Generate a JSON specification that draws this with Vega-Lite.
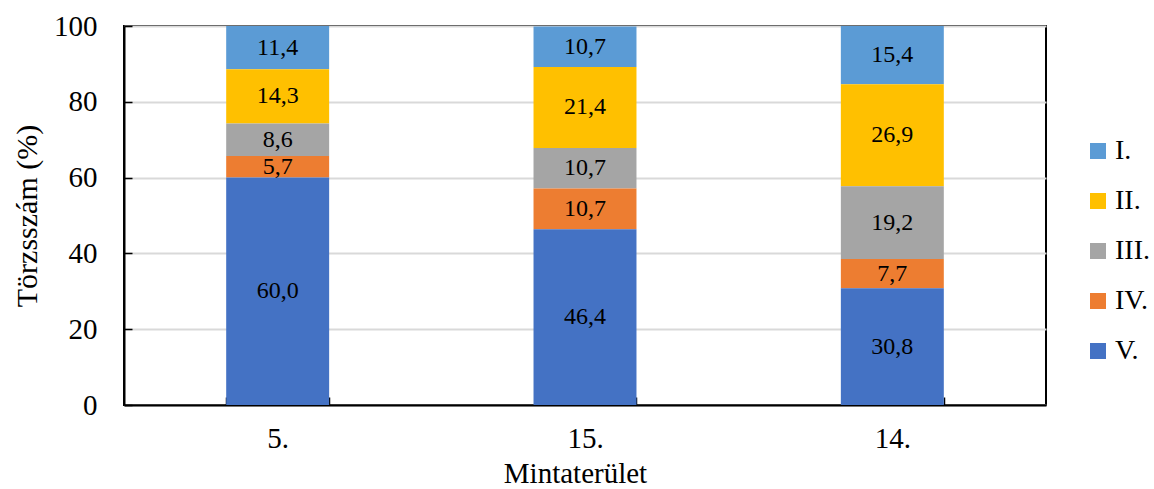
{
  "$schema": "https://vega.github.io/schema/vega-lite/v6.json",
  "width": 922,
  "height": 379,
  "autosize": {"type": "none"},
  "padding": {"left": 124, "top": 26, "right": 108, "bottom": 84},
  "background": "white",
  "config": {
    "font": "Liberation Serif",
    "locale": {"number": {"decimal": ",", "thousands": " ", "grouping": [3], "currency": ["", " Ft"]}},
    "view": {"stroke": "black", "strokeWidth": 2}
  },
  "data": {
    "values": [
      {"site": "5.", "class": "I.", "value": 11.4},
      {"site": "5.", "class": "II.", "value": 14.3},
      {"site": "5.", "class": "III.", "value": 8.6},
      {"site": "5.", "class": "IV.", "value": 5.7},
      {"site": "5.", "class": "V.", "value": 60.0},
      {"site": "15.", "class": "I.", "value": 10.7},
      {"site": "15.", "class": "II.", "value": 21.4},
      {"site": "15.", "class": "III.", "value": 10.7},
      {"site": "15.", "class": "IV.", "value": 10.7},
      {"site": "15.", "class": "V.", "value": 46.4},
      {"site": "14.", "class": "I.", "value": 15.4},
      {"site": "14.", "class": "II.", "value": 26.9},
      {"site": "14.", "class": "III.", "value": 19.2},
      {"site": "14.", "class": "IV.", "value": 7.7},
      {"site": "14.", "class": "V.", "value": 30.8}
    ]
  },
  "encoding": {
    "x": {
      "field": "site", "type": "nominal", "sort": ["5.", "15.", "14."],
      "scale": {"paddingInner": 0.665, "paddingOuter": 0.3325},
      "axis": {
        "title": "Mintaterület", "labelAngle": 0, "tickBand": "extent",
        "domainColor": "black", "domainWidth": 2, "tickColor": "black", "tickWidth": 1.5, "tickSize": -8,
        "labelFontSize": 29, "labelColor": "black", "labelPadding": 27,
        "titleFontSize": 29, "titleFontWeight": "normal", "titleColor": "black",
        "titleX": 451, "titleY": 77, "titleBaseline": "alphabetic"
      }
    },
    "y": {
      "field": "value", "type": "quantitative", "stack": "zero",
      "scale": {"domain": [0, 100], "nice": false},
      "axis": {
        "title": "Törzsszám (%)", "values": [0, 20, 40, 60, 80, 100], "format": "d",
        "domainColor": "black", "domainWidth": 2, "tickColor": "black", "tickWidth": 1.5, "tickSize": -8,
        "gridColor": "#d9d9d9", "gridWidth": 2,
        "labelFontSize": 29, "labelColor": "black", "labelPadding": 35,
        "titleFontSize": 30, "titleFontWeight": "normal", "titleColor": "black",
        "titleX": -88, "titleY": 189.5, "titleBaseline": "alphabetic"
      }
    },
    "order": {"field": "class", "sort": "descending"}
  },
  "layer": [
    {
      "mark": {"type": "bar"},
      "encoding": {
        "color": {
          "field": "class", "type": "nominal",
          "scale": {"domain": ["I.", "II.", "III.", "IV.", "V."], "range": ["#5B9BD5", "#FFC000", "#A5A5A5", "#ED7D31", "#4472C4"]},
          "legend": {
            "title": null, "orient": "none", "legendX": 960, "legendY": 111,
            "symbolType": "square", "symbolSize": 256, "symbolStrokeWidth": 0, "symbolOpacity": 1,
            "labelFontSize": 28, "labelColor": "black", "labelOffset": 3, "rowPadding": 22, "padding": 0
          }
        }
      }
    },
    {
      "mark": {"type": "text", "fontSize": 24, "color": "black", "baseline": "middle"},
      "encoding": {
        "y": {"field": "value", "type": "quantitative", "stack": "zero", "bandPosition": 0.5},
        "text": {"field": "value", "type": "quantitative", "format": ".1f"}
      }
    }
  ]
}
